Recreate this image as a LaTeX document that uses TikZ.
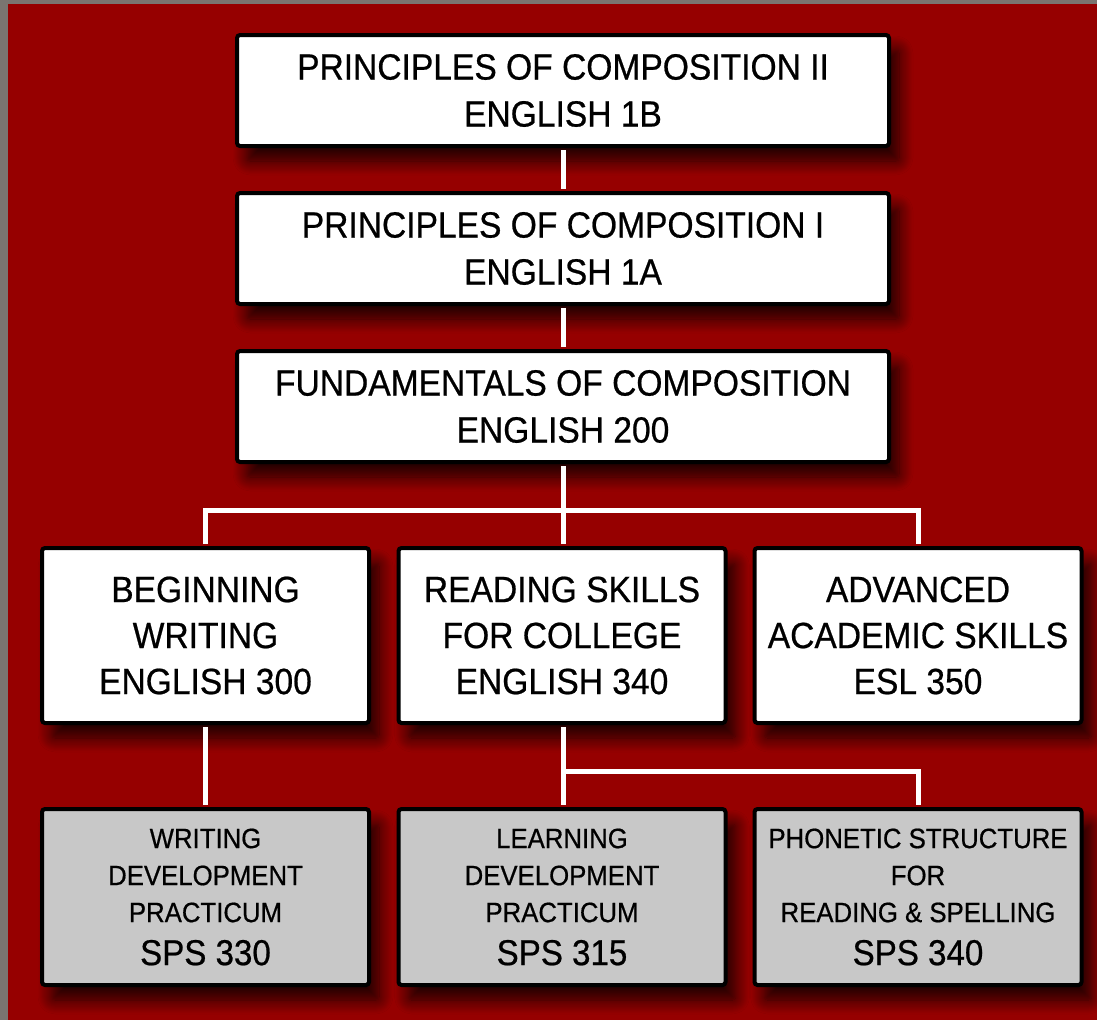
\documentclass[tikz,border=0pt]{standalone}
\usepackage{fontspec}
\setmainfont[FakeStretch=0.92, FakeBold=0.6]{Liberation Sans}
\usepackage{xcolor}
\usetikzlibrary{shadows,shadows.blur}
\definecolor{deepred}{RGB}{150,0,0}
\definecolor{frame}{RGB}{122,117,112}
\definecolor{boxgrey}{RGB}{200,200,200}
\tikzset{
    course/.style={
        draw=black,
        line width=4pt,
        rounded corners=3pt,
        fill=white,
        align=center,
        inner sep=0pt,
        blur shadow={shadow xshift=10pt, shadow yshift=-15pt,
            shadow blur radius=14pt, shadow blur steps=14, shadow opacity=80}
    },
    upper/.style={course, minimum width=652pt, minimum height=111pt,
        font=\fontsize{36.5}{47}\selectfont},
    middle/.style={course, minimum width=327pt, minimum height=175pt,
        font=\fontsize{36.5}{46}\selectfont},
    lower/.style={course, fill=boxgrey, minimum width=327pt, minimum height=176pt,
        font=\fontsize{28}{37}\selectfont},
    link/.style={draw=white, line width=5pt, shorten <=2pt, shorten >=2pt}
}
\newcommand{\spsline}[1]{{\fontsize{36}{40}\selectfont #1}}

\begin{document}
\begin{tikzpicture}[x=1pt, y=-1pt]
    % background
    \fill[frame] (0,0) rectangle (1097,1020);
    \fill[deepred] (8,4) rectangle (1097,1020);
    \useasboundingbox (0,0) rectangle (1097,1020);

    % English sequence
    \node[upper] (compII) at (563,90.5) {PRINCIPLES OF COMPOSITION II\\ENGLISH 1B};
    \node[upper] (compI) at (563,248.5) {PRINCIPLES OF COMPOSITION I\\ENGLISH 1A};
    \node[upper] (fund) at (563,406.5) {FUNDAMENTALS OF COMPOSITION\\ENGLISH 200};

    \node[middle] (begw) at (205.5,635.5) {BEGINNING\\WRITING\\ENGLISH 300};
    \node[middle] (read) at (562,635.5) {READING SKILLS\\FOR COLLEGE\\ENGLISH 340};
    \node[middle] (esl) at (918,635.5) {ADVANCED\\ACADEMIC SKILLS\\ESL 350};

    % SPS practica
    \node[lower] (wdp) at (205.5,897) {WRITING\\DEVELOPMENT\\PRACTICUM\\[6pt]\spsline{SPS 330}};
    \node[lower] (ldp) at (562,897) {LEARNING\\DEVELOPMENT\\PRACTICUM\\[6pt]\spsline{SPS 315}};
    \node[lower] (psrs) at (918,897) {PHONETIC STRUCTURE\\FOR\\READING \& SPELLING\\[6pt]\spsline{SPS 340}};

    \coordinate (fork) at (563,510.5);
    \coordinate (split) at (563,771.5);

    \draw[link] (compII) -- (compI);
    \draw[link] (compI) -- (fund);
    \draw[link] (fund.south) -- (fork);
    \draw[link] (begw.north) |- (fork) -| (esl.north);
    \draw[link] (fork) -- (fork |- read.north);
    \draw[link] (begw) -- (wdp);
    \draw[link] (read.south -| split) -- (split |- ldp.north);
    \draw[link, shorten <=0pt] (split) -| (psrs.north);
\end{tikzpicture}
\end{document}
